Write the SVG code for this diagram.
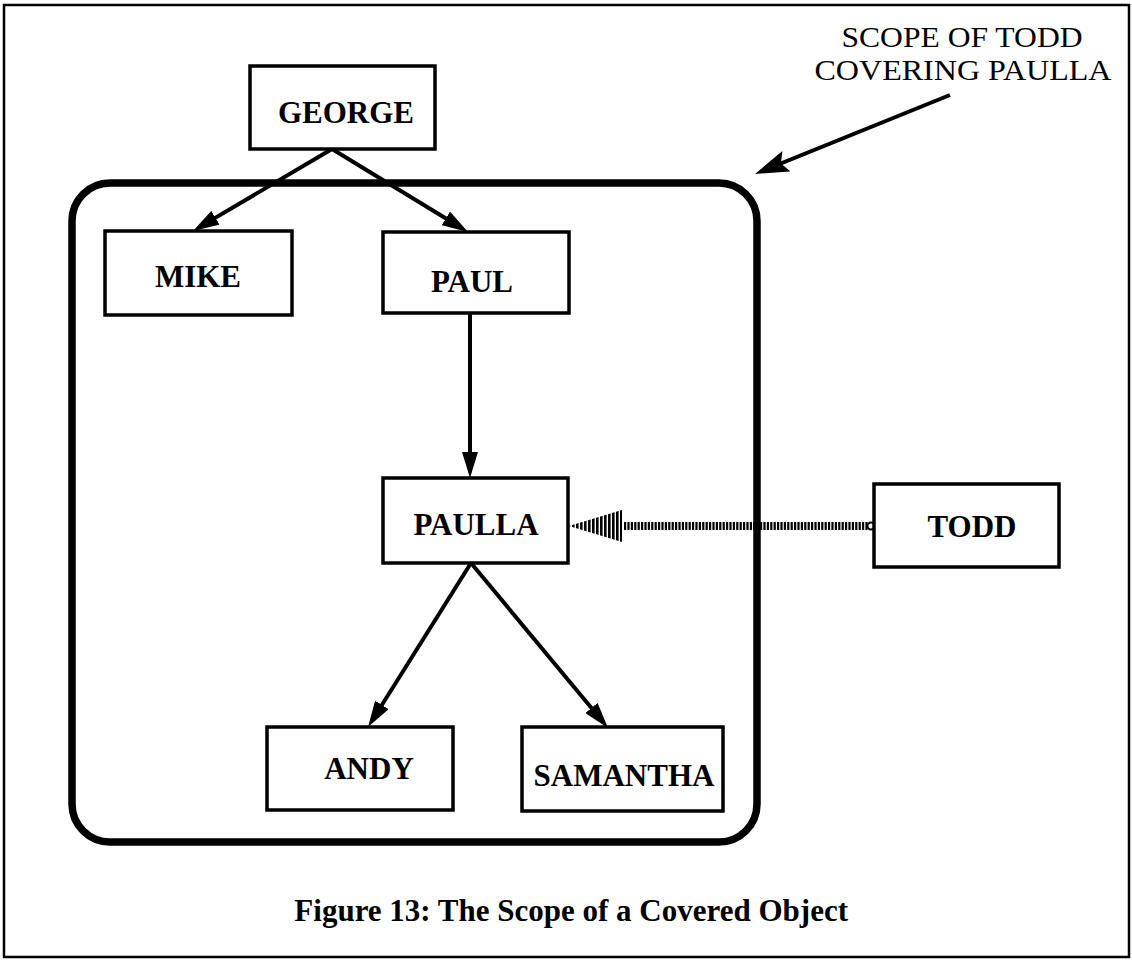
<svg xmlns="http://www.w3.org/2000/svg" width="1132" height="960" viewBox="0 0 1132 960">
  <style>
    .box { fill: #fff; stroke: #000; stroke-width: 3.5; }
    .lbl { font-family: "Liberation Serif", "Times New Roman", serif; font-weight: bold; font-size: 31px; fill: #000; text-anchor: middle; }
    .note { font-family: "Liberation Serif", "Times New Roman", serif; font-size: 30px; fill: #000; text-anchor: middle; }
    .cap { font-family: "Liberation Serif", "Times New Roman", serif; font-weight: bold; font-size: 31px; fill: #000; text-anchor: end; }
    .edge { stroke: #000; stroke-width: 4; fill: none; marker-end: url(#arrow); }
  </style>
  <defs>
    <marker id="arrow" viewBox="0 0 26 16" refX="18" refY="8" markerWidth="26" markerHeight="16" markerUnits="userSpaceOnUse" orient="auto">
      <path d="M0,0 L26,8 L0,16 z" fill="#000"/>
    </marker>
    <marker id="bigarrow" viewBox="0 0 34 22" refX="26" refY="11" markerWidth="34" markerHeight="22" markerUnits="userSpaceOnUse" orient="auto">
      <path d="M0,0 L34,11 L0,22 L6,11 z" fill="#000"/>
    </marker>
    <pattern id="hatch" width="4" height="10" patternUnits="userSpaceOnUse">
      <rect width="2.6" height="10" fill="#000"/>
    </pattern>
  </defs>

  <rect x="0" y="0" width="1132" height="960" fill="#fff"/>
  <rect id="frame" x="4" y="5" width="1125" height="952" fill="none" stroke="#000" stroke-width="2.5"/>

  <rect id="scope" x="72" y="183" width="685" height="659" rx="38" ry="38" fill="none" stroke="#000" stroke-width="7.5"/>

  <g id="connectors">
    <line class="edge" x1="332" y1="149" x2="199.9" y2="226.9"/>
    <line class="edge" x1="332" y1="149" x2="461.2" y2="227.8"/>
    <line class="edge" x1="470" y1="313" x2="470" y2="470"/>
    <line class="edge" x1="471" y1="563" x2="372.3" y2="720.2"/>
    <line class="edge" x1="471" y1="563" x2="602.9" y2="721.8"/>
    <line x1="950" y1="95" x2="762.4" y2="171" stroke="#000" stroke-width="4" marker-end="url(#bigarrow)"/>
    <g id="cover-link">
      <line x1="624" y1="526" x2="868" y2="526" stroke="#000" stroke-width="8" stroke-dasharray="2.2 1.2"/>
      <polygon points="569,526 622,510 622,542" fill="url(#hatch)"/>
      <circle cx="871" cy="526" r="3.5" fill="#fff" stroke="#000" stroke-width="2"/>
    </g>
  </g>

  <g id="george"><rect class="box" x="250" y="66" width="185" height="83"/><text class="lbl" x="346" y="123">GEORGE</text></g>
  <g id="mike"><rect class="box" x="105" y="231" width="187" height="84"/><text class="lbl" x="198" y="287">MIKE</text></g>
  <g id="paul"><rect class="box" x="383" y="232" width="186" height="81"/><text class="lbl" x="472" y="292">PAUL</text></g>
  <g id="paulla"><rect class="box" x="383" y="478" width="185" height="85"/><text class="lbl" x="476" y="535">PAULLA</text></g>
  <g id="todd"><rect class="box" x="874" y="484" width="185" height="83"/><text class="lbl" x="972" y="537">TODD</text></g>
  <g id="andy"><rect class="box" x="267" y="727" width="186" height="83"/><text class="lbl" x="369" y="779">ANDY</text></g>
  <g id="samantha"><rect class="box" x="522" y="727" width="201" height="84"/><text class="lbl" x="624" y="786">SAMANTHA</text></g>

  <g id="scope-note">
    <text class="note" x="962" y="47" textLength="241" lengthAdjust="spacingAndGlyphs">SCOPE OF TODD</text>
    <text class="note" x="963" y="80" textLength="297" lengthAdjust="spacingAndGlyphs">COVERING PAULLA</text>
  </g>

  <text id="caption" class="cap" x="848" y="921">Figure 13: The Scope of a Covered Object</text>
</svg>
